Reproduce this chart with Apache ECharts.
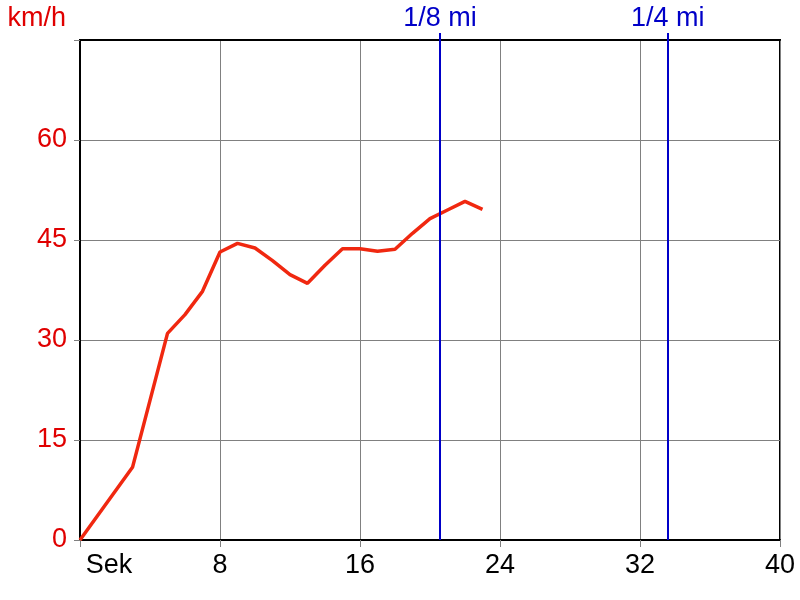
<!DOCTYPE html>
<html>
<head>
<meta charset="utf-8">
<script src="https://cdn.jsdelivr.net/npm/echarts@6/dist/echarts.min.js"></script>
<style>html,body{margin:0;padding:0;background:#fff}#c{width:800px;height:600px}</style>
</head>
<body>
<div id="c"></div>
<script>
var seconds = [0, 3, 5, 6, 7, 8, 9, 10, 11, 12, 13, 14, 15, 16, 17, 18, 19, 20, 21, 22, 23];
var speeds  = [0, 10.9, 31.0, 33.8, 37.3, 43.2, 44.5, 43.8, 41.9, 39.8, 38.5, 41.2, 43.7, 43.7, 43.3, 43.6, 46.0, 48.2, 49.5, 50.8, 49.6];
var markerNames = ['1/8 mi', '1/4 mi'];
var markerPositions = [20.57, 33.58];
var xTicks = [0, 8, 16, 24, 32, 40];
var yTicks = [0, 15, 30, 45, 60, 75];

var chart = echarts.init(document.getElementById('c'));
var font = 'Liberation Sans, Arial, sans-serif';
var blue = '#0000c8';
var fs = 27;
chart.setOption({
  animation: false,
  grid: { left: 80, right: 20, top: 40, bottom: 60, show: true, borderColor: '#000', borderWidth: 2, backgroundColor: 'transparent' },
  xAxis: [{
    type: 'value', min: xTicks[0], max: xTicks[xTicks.length - 1], interval: 8,
    axisLine: { lineStyle: { color: '#000', width: 2 } },
    axisTick: { show: true, length: 7, lineStyle: { color: '#808080', width: 1 } },
    splitLine: { show: true, lineStyle: { color: '#808080', width: 1 } },
    axisLabel: {
      color: '#000', fontFamily: font, fontSize: fs, margin: 12,
      formatter: function (v) { return v === 0 ? '{s|Sek}' : String(v); },
      rich: { s: { color: '#000', fontFamily: font, fontSize: fs, padding: [0, 0, 0, 58] } }
    }
  }, {
    type: 'value', position: 'top', min: xTicks[0], max: xTicks[xTicks.length - 1],
    axisLine: { show: true, lineStyle: { color: '#000', width: 2 } },
    splitLine: { show: false },
    axisTick: { show: true, length: 7, customValues: markerPositions, lineStyle: { color: blue, width: 2 } },
    axisLabel: {
      show: true, customValues: markerPositions, color: blue, fontFamily: font, fontSize: fs, margin: 8,
      formatter: function (v) {
        var i = markerPositions.indexOf(v);
        return i >= 0 ? markerNames[i] : '';
      }
    }
  }],
  yAxis: {
    type: 'value', min: yTicks[0], max: yTicks[yTicks.length - 1], interval: 15,
    name: 'km/h', nameLocation: 'end', nameGap: 21,
    nameTextStyle: { color: '#e00000', fontFamily: font, fontSize: fs, align: 'right', verticalAlign: 'middle', padding: [0, 14, 0, 0] },
    axisLine: { show: true, lineStyle: { color: '#000', width: 2 } },
    axisTick: { show: true, length: 6, lineStyle: { color: '#808080', width: 1 } },
    splitLine: { show: true, lineStyle: { color: '#808080', width: 1 } },
    axisLabel: {
      color: '#e00000', fontFamily: font, fontSize: fs, margin: 13,
      formatter: function (v) { return v === 75 ? '' : String(v); }
    }
  },
  series: [{
    type: 'line',
    xAxisIndex: 0,
    data: seconds.map(function (s, i) { return [s, speeds[i]]; }),
    symbol: 'none',
    lineStyle: { color: '#f02810', width: 3.5 },
    clip: false,
    z: 3,
    markLine: {
      silent: true, symbol: 'none', animation: false,
      lineStyle: { color: blue, width: 2, type: 'solid' },
      label: { show: false },
      data: markerPositions.map(function (p, i) {
        return { xAxis: p, name: markerNames[i] };
      })
    }
  }]
});
</script>
</body>
</html>
